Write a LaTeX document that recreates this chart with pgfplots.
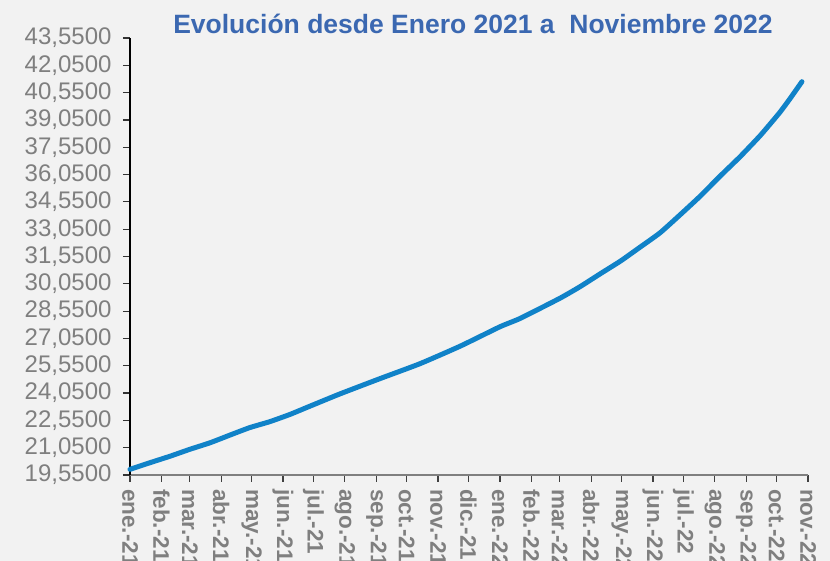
\documentclass[border=0pt]{standalone}
\usepackage{pgfplots}
\pgfplotsset{compat=1.18}
\usepackage{fontspec}
\setmainfont{Liberation Sans}
\definecolor{bg}{HTML}{F2F2F2}
\definecolor{serie}{RGB}{16,130,200}
\definecolor{tickgray}{HTML}{7F7F7F}
\definecolor{titleblue}{RGB}{59,104,177}
\begin{document}
\begin{tikzpicture}[x=1pt,y=1pt]
\useasboundingbox (0,0) rectangle (830,561);
\fill[bg] (0,0) rectangle (830,561);
\clip (0,0) rectangle (830,561);
\begin{axis}[
  at={(130pt,86pt)}, anchor=south west,
  scale only axis, width=678pt, height=437pt,
  xmin=0, xmax=669, ymin=19.55, ymax=43.55,
  axis x line=bottom, axis y line=left,
  x axis line style={-, draw=gray, line width=2pt},
  y axis line style={-, draw=black, line width=1.2pt},
  tick align=outside, major tick length=7pt,
  x tick style={draw=black!75, line width=1.2pt},
  y tick style={draw=black!80, line width=1.2pt},
  xtick={0,31,59,90,120,151,181,212,243,273,304,334,365,396,424,455,485,516,546,577,608,638,669},
  xticklabels={ene.-21,feb.-21,mar.-21,abr.-21,may.-21,jun.-21,jul.-21,ago.-21,sep.-21,oct.-21,nov.-21,dic.-21,ene.-22,feb.-22,mar.-22,abr.-22,may.-22,jun.-22,jul.-22,ago.-22,sep.-22,oct.-22,nov.-22},
  xticklabel style={rotate=-90, anchor=west, inner sep=0pt, font=\bfseries\fontsize{22.5}{22.5}\selectfont, text=tickgray},
  xticklabel shift=7pt,
  ytick={19.55,21.05,22.55,24.05,25.55,27.05,28.55,30.05,31.55,33.05,34.55,36.05,37.55,39.05,40.55,42.05,43.55},
  yticklabel style={font=\fontsize{24}{24}\selectfont, text=tickgray, xshift=-8pt, /pgf/number format/.cd, fixed, fixed zerofill, precision=4, use comma, assume math mode=true},
  axis background/.style={fill=bg},
  clip=false,
]
\addplot[serie, line width=5pt, line join=round, line cap=round, smooth, tension=0.3] coordinates {
(0,19.86)(20,20.23)(40,20.59)(59,20.96)(79,21.32)(99,21.75)(118,22.15)(138,22.48)(158,22.88)(178,23.34)(207,24.0)(247,24.85)(286,25.66)(326,26.63)(365,27.69)(385,28.15)(424,29.25)(444,29.89)(464,30.6)(484,31.3)(503,32.05)(523,32.85)(543,33.85)(562,34.83)(582,35.95)(602,37.03)(622,38.2)(641,39.45)(651,40.2)(663,41.15)
};
\end{axis}
\node[font=\bfseries\fontsize{26.5}{26.5}\selectfont, text=titleblue] at (473,537) {Evolución desde Enero 2021 a \ Noviembre 2022};
\end{tikzpicture}
\end{document}
